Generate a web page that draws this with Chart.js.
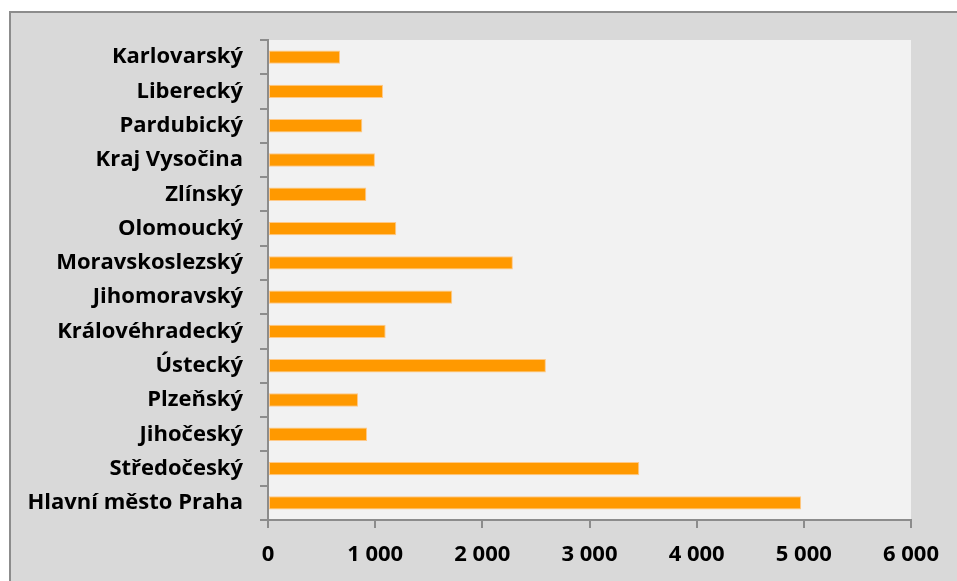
<!DOCTYPE html>
<html>
<head>
<meta charset="utf-8">
<script src="https://cdn.jsdelivr.net/npm/chart.js@4"></script>
<style>
  html, body { margin: 0; padding: 0; background: #ffffff; }
  #wrap { position: relative; width: 957px; height: 581px; }
</style>
</head>
<body>
<div id="wrap"><canvas id="kraje-chart" width="957" height="581"></canvas></div>
<script>
// Kraje (odshora dolů jako v grafu)
const kraje = [
    "Karlovarský", "Liberecký", "Pardubický", "Kraj Vysočina", "Zlínský",
    "Olomoucký", "Moravskoslezský", "Jihomoravský", "Královéhradecký",
    "Ústecký", "Plzeňský", "Jihočeský", "Středočeský", "Hlavní město Praha"
];
const hodnoty = [672, 1073, 880, 998, 917, 1197, 2285, 1719, 1098, 2593, 840, 924, 3464, 4975];
const osaXMin = 0;
const osaXMax = 6000;
const osaXKrok = 1000;

// Pozadí grafu a oblasti vykreslování
const pozadiPlugin = {
    id: "pozadi",
    beforeDraw(chart) {
        const ctx = chart.ctx;
        const area = chart.chartArea;
        ctx.save();
        ctx.fillStyle = "#ffffff";
        ctx.fillRect(0, 0, chart.width, chart.height);
        ctx.fillStyle = "#d9d9d9";
        ctx.fillRect(10, 12, chart.width - 10, chart.height - 12);
        ctx.fillStyle = "#8c8c8c";
        ctx.fillRect(9, 11, chart.width - 9, 2);
        ctx.fillRect(9, 11, 2, chart.height - 11);
        ctx.fillStyle = "#f2f2f2";
        ctx.fillRect(area.left, area.top, area.right - area.left, area.bottom - area.top);
        ctx.restore();
    }
};

const formatCislo = v => String(v).replace(/\B(?=(\d{3})+(?!\d))/g, " ");
const pismo = { family: "'Open Sans'", size: 22, weight: "bold" };

const ctx = document.getElementById("kraje-chart").getContext("2d");
new Chart(ctx, {
    type: "bar",
    data: {
        labels: kraje,
        datasets: [{
            data: hodnoty,
            backgroundColor: "#ff9900",
            borderColor: "#ffc987",
            borderWidth: 1,
            borderSkipped: false,
            barPercentage: 0.39,
            categoryPercentage: 1
        }]
    },
    options: {
        indexAxis: "y",
        responsive: false,
        animation: false,
        layout: { padding: { top: 40, right: 46, left: 0, bottom: 0 } },
        plugins: {
            legend: { display: false },
            tooltip: { enabled: false }
        },
        scales: {
            x: {
                min: osaXMin,
                max: osaXMax,
                afterFit: scale => { scale.height = 61; },
                ticks: {
                    stepSize: osaXKrok,
                    color: "#000000",
                    padding: 14,
                    maxRotation: 0,
                    font: pismo,
                    callback: v => formatCislo(v)
                },
                grid: {
                    drawOnChartArea: false,
                    drawTicks: true,
                    tickLength: 8,
                    color: "#8c8c8c",
                    lineWidth: 2
                },
                border: { color: "#8c8c8c", width: 2 }
            },
            y: {
                afterFit: scale => { scale.width = 268; },
                ticks: {
                    color: "#000000",
                    padding: 17,
                    font: pismo
                },
                grid: {
                    drawOnChartArea: false,
                    drawTicks: true,
                    tickLength: 8,
                    color: "#8c8c8c",
                    lineWidth: 2
                },
                border: { color: "#8c8c8c", width: 2 }
            }
        }
    },
    plugins: [pozadiPlugin]
});
</script>
</body>
</html>
